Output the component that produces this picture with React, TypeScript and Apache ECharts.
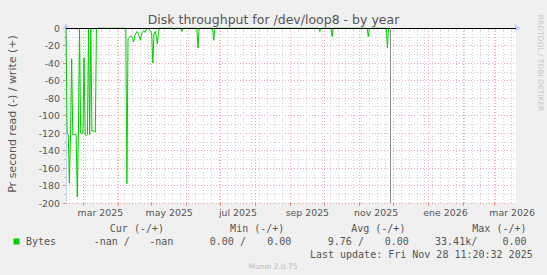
import React, { useEffect, useRef } from "react";
import * as echarts from "echarts";

// ---- data ----
const START_DATE = "2025-02-14";
const END_DATE = "2026-03-20";
const NOW_TIME = "2025-11-28T11:20:32";

const readDates = [
  "2025-02-14", "2025-02-15", "2025-02-16", "2025-02-17", "2025-02-18", "2025-02-19",
  "2025-02-20", "2025-02-21", "2025-02-22", "2025-02-23", "2025-02-24", "2025-02-25",
  "2025-02-26", "2025-02-27", "2025-02-28", "2025-03-01", "2025-03-02", "2025-03-03",
  "2025-03-04", "2025-03-05", "2025-03-06", "2025-03-07", "2025-03-08", "2025-03-09",
  "2025-03-10", "2025-03-11", "2025-03-12", "2025-03-13",
  "2025-04-08", "2025-04-09", "2025-04-10", "2025-04-11", "2025-04-12", "2025-04-13",
  "2025-04-14", "2025-04-15", "2025-04-16", "2025-04-17", "2025-04-18", "2025-04-19",
  "2025-04-20", "2025-04-21", "2025-04-22", "2025-04-23", "2025-04-24", "2025-04-25",
  "2025-04-26", "2025-04-27", "2025-04-28", "2025-04-29", "2025-04-30", "2025-05-01",
  "2025-05-02", "2025-05-03", "2025-05-04", "2025-05-05", "2025-05-06", "2025-05-07",
  "2025-05-08",
  "2025-05-20", "2025-05-21", "2025-05-22",
  "2025-05-27", "2025-05-28", "2025-05-29",
  "2025-06-10", "2025-06-11", "2025-06-12",
  "2025-06-24", "2025-06-25", "2025-06-26",
  "2025-09-12", "2025-09-13", "2025-09-14",
  "2025-09-26", "2025-09-27", "2025-09-28",
  "2025-10-07", "2025-10-08", "2025-10-09",
  "2025-11-08", "2025-11-09", "2025-11-10",
  "2025-11-25", "2025-11-26", "2025-11-27", "2025-11-28",
];
const readValues = [
  0, -120, -122, -177, -123, -35,
  -122, -122, -121, -122, -193, -122,
  0, -120, -121, -120, -34, -122,
  -123, -122, 0, -122, 0, -118,
  -117, -118, -119, 0,
  0, -178, -12, -11, -10, -9,
  -12, -16, -9, -6, -4, -6,
  -10, -14, -7, -4, -3, -5,
  -2, -1, 0, -2, -4, -7,
  -40, -6, -4, -9, -18, -5,
  0,
  0, -2, 0,
  0, -4, 0,
  0, -23, 0,
  0, -14, 0,
  0, -1.5, 0,
  0, -4, 0,
  0, -10, 0,
  0, -10, 0,
  0, -23, 0, 0,
];

const monthStarts = [
  "2025-03-01", "2025-04-01", "2025-05-01", "2025-06-01", "2025-07-01", "2025-08-01",
  "2025-09-01", "2025-10-01", "2025-11-01", "2025-12-01", "2026-01-01", "2026-02-01",
  "2026-03-01", "2026-04-01",
];
const labelMonthIdx = [0, 2, 4, 6, 8, 10, 12];
const labelTexts = ["mar 2025", "may 2025", "jul 2025", "sep 2025", "nov 2025", "ene 2026", "mar 2026"];
const firstMonday = "2025-02-17";

const legendHeaders = ["Cur (-/+)", "Min (-/+)", "Avg (-/+)", "Max (-/+)"];
const legendName = "Bytes";
const legendValues = ["-nan /", "-nan", "0.00 /", "0.00", "9.76 /", "0.00", "33.41k/", "0.00"];
const lastUpdate = "Last update: Fri Nov 28 11:20:32 2025";
const titleText = "Disk throughput for /dev/loop8 - by year";
const yAxisName = "Pr second read (-) / write (+)";
const sideText = "RRDTOOL / TOBI OETIKER";
const footerText = "Munin 2.0.75";

// ---- helpers ----
const DAY = 86400000;
const t0 = Date.parse(START_DATE + "T00:00:00Z");
const dayOf = (s: string) => (Date.parse(s.length === 10 ? s + "T00:00:00Z" : s + "Z") - t0) / DAY;

const GREEN = "#00CC00";
const TXT = "#555555";
const AXIS = "#C9D0F5";
const SANS = "DejaVu Sans";
const MONO = "DejaVu Sans Mono";

export default function App() {
  const ref = useRef<HTMLDivElement>(null);
  useEffect(() => {
    if (!ref.current) return;
    const chart = echarts.init(ref.current, null, { renderer: "svg" });
    const maxDay = dayOf(END_DATE);
    const weekly: number[] = [];
    for (let d = dayOf(firstMonday); d <= maxDay; d += 7) weekly.push(d);
    const monthDays = monthStarts.map(dayOf).filter((d) => d <= maxDay);
    const labelPos = labelMonthIdx.map((i) => (dayOf(monthStarts[i]) + dayOf(monthStarts[i + 1])) / 2);
    const fmt = (v: number) => {
      let best = 0;
      labelPos.forEach((p, i) => {
        if (Math.abs(p - v) < Math.abs(labelPos[best] - v)) best = i;
      });
      return labelTexts[best];
    };
    const data = readDates.map((d, i) => [dayOf(d), readValues[i]]);

    const headerEnds = [164, 284.3, 405.4, 526.5];
    const valueEnds = [129.8, 173.4, 245.9, 291.3, 363.9, 408.9, 477.2, 526.5];

    const graphics: any[] = [
      {
        type: "text", x: 273.5, y: 19.5,
        style: { text: titleText, fill: TXT, fontSize: 12.5, fontFamily: SANS, textAlign: "center", textVerticalAlign: "middle" },
      },
      {
        type: "text", x: 12, y: 114, rotation: Math.PI / 2,
        style: { text: yAxisName, fill: TXT, fontSize: 11, fontFamily: SANS, textAlign: "center", textVerticalAlign: "middle" },
      },
      {
        type: "text", x: 540, y: 63, rotation: -Math.PI / 2,
        style: { text: sideText, fill: "#C8C8C8", fontSize: 7.5, fontFamily: SANS, textAlign: "center", textVerticalAlign: "middle" },
      },
      {
        type: "text", x: 273, y: 266.3,
        style: { text: footerText, fill: "#BBBBBB", fontSize: 7.5, fontFamily: SANS, textAlign: "center", textVerticalAlign: "middle" },
      },
      { type: "rect", shape: { x: 13.5, y: 238.5, width: 6, height: 6 }, style: { fill: GREEN } },
      {
        type: "text", x: 26, y: 241.5,
        style: { text: legendName, fill: TXT, fontSize: 10, fontFamily: MONO, textAlign: "left", textVerticalAlign: "middle" },
      },
      {
        type: "text", x: 532.7, y: 254,
        style: { text: lastUpdate, fill: TXT, fontSize: 10, fontFamily: MONO, textAlign: "right", textVerticalAlign: "middle" },
      },
    ];
    legendHeaders.forEach((h, i) =>
      graphics.push({
        type: "text", x: headerEnds[i], y: 228.6,
        style: { text: h, fill: TXT, fontSize: 10, fontFamily: MONO, textAlign: "right", textVerticalAlign: "middle" },
      })
    );
    legendValues.forEach((v, i) =>
      graphics.push({
        type: "text", x: valueEnds[i], y: 241.5,
        style: { text: v, fill: TXT, fontSize: 10, fontFamily: MONO, textAlign: "right", textVerticalAlign: "middle" },
      })
    );

    chart.setOption({
      animation: false,
      backgroundColor: "#F0F0F0",
      grid: { left: 66, right: 31, top: 28, bottom: 72, show: true, backgroundColor: "#FFFFFF", borderWidth: 0 },
      xAxis: [
        {
          type: "value", min: 0, max: maxDay, position: "bottom",
          axisLine: { show: true, lineStyle: { color: AXIS, width: 1 }, symbol: ["none", "arrow"], symbolSize: [6, 7], symbolOffset: [0, 5] },
          axisTick: { show: true, customValues: weekly, length: 2, lineStyle: { color: "#C0C0C0" } },
          splitLine: { show: true, lineStyle: { color: "#D0D0D0", type: [1, 2], width: 1 } },
          axisLabel: { show: false },
        },
        {
          type: "value", min: 0, max: maxDay, position: "bottom",
          axisLine: { show: false },
          axisTick: { show: true, customValues: monthDays, length: 3, lineStyle: { color: "#E89090" } },
          splitLine: { show: true, lineStyle: { color: "#EBA9A9", type: [1, 2], width: 1 } },
          axisLabel: {
            show: true, customValues: labelPos, formatter: fmt, color: TXT, fontSize: 9.4, fontFamily: SANS, margin: 5,
          },
        },
      ],
      yAxis: {
        type: "value", min: -200, max: 0, interval: 20,
        axisLine: { show: true, lineStyle: { color: AXIS, width: 1 }, symbol: ["none", "arrow"], symbolSize: [6, 7], symbolOffset: [0, 5] },
        axisTick: { show: true, length: 3, lineStyle: { color: "#E89090" } },
        minorTick: { show: true, splitNumber: 2, length: 2, lineStyle: { color: "#C0C0C0" } },
        splitLine: { show: true, lineStyle: { color: "#EBA9A9", type: [1, 2], width: 1 } },
        minorSplitLine: { show: true, lineStyle: { color: "#D0D0D0", type: [1, 2], width: 1 } },
        axisLabel: { color: TXT, fontSize: 9.4, fontFamily: SANS, margin: 6 },
      },
      series: [
        {
          type: "line", name: legendName, xAxisIndex: 0, yAxisIndex: 0,
          data, showSymbol: false, symbol: "none",
          lineStyle: { color: GREEN, width: 1 }, itemStyle: { color: GREEN },
          z: 3,
          markLine: {
            silent: true, symbol: "none", label: { show: false }, animation: false,
            data: [
              { yAxis: 0, lineStyle: { color: "#000000", width: 1, type: "solid" } },
              { xAxis: dayOf(NOW_TIME), lineStyle: { color: "#8C8C8C", width: 1, type: "solid" } },
            ],
          },
        },
      ],
      graphic: graphics,
    });
    return () => chart.dispose();
  }, []);
  return (
    <div
      ref={ref}
      style={{ position: "fixed", left: 0, top: 0, width: 547, height: 275, background: "#F0F0F0" }}
    />
  );
}
